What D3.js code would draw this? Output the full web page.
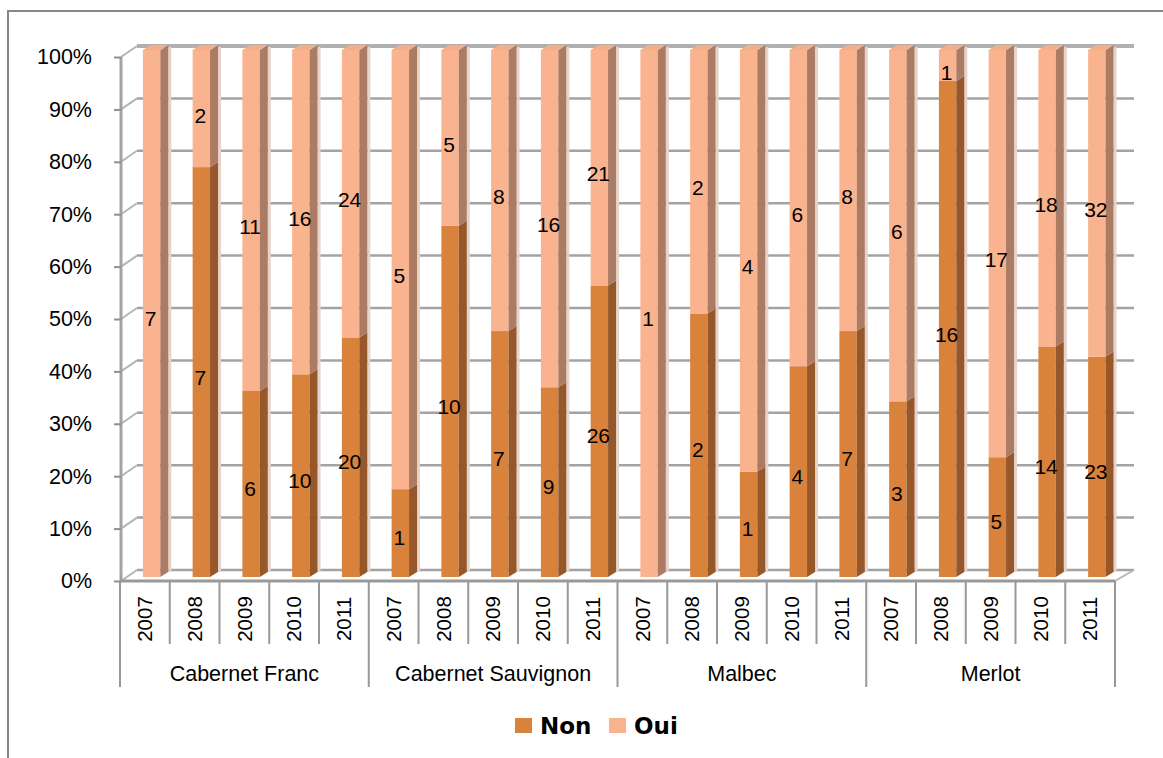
<!DOCTYPE html>
<html>
<head>
<meta charset="utf-8">
<script src="https://cdn.jsdelivr.net/npm/d3@7"></script>
<style>
  body { margin: 0; background: #fff; }
  svg { display: block; }
</style>
</head>
<body>
<div id="chart"></div>
<script>
(function () {

  // cépages et années
  const cepages = ["Cabernet Franc", "Cabernet Sauvignon", "Malbec", "Merlot"]
  const annees = ["2007", "2008", "2009", "2010", "2011"]

  // nombre de réponses par cépage puis par année
  const non = [0, 7, 6, 10, 20,  1, 10, 7, 9, 26,  0, 2, 1, 4, 7,  3, 16, 5, 14, 23]
  const oui = [7, 2, 11, 16, 24,  5, 5, 8, 16, 21,  1, 2, 4, 6, 8,  6, 1, 17, 18, 32]

  const yTicks = [0, 0.1, 0.2, 0.3, 0.4, 0.5, 0.6, 0.7, 0.8, 0.9, 1]

  const W = 1163, H = 758

  const colors = {
    Non: { front: "#D9823B", side: "#96582A", top: "#D07C38" },
    Oui: { front: "#F9B38F", side: "#AB7B64", top: "#F6AE88" }
  }

  const rows = []
  cepages.forEach((c, ci) => {
    annees.forEach((a, ai) => {
      const i = ci * annees.length + ai
      const total = non[i] + oui[i]
      rows.push({ id: c + "|" + a, cepage: c, annee: a, non: non[i], oui: oui[i], pNon: non[i] / total })
    })
  })

  const svg = d3.select("#chart").append("svg")
      .attr("width", W)
      .attr("height", H)

  // cadre du graphique
  svg.append("rect")
    .attr("x", 8).attr("y", 11)
    .attr("width", W + 20).attr("height", H + 20)
    .attr("fill", "none")
    .attr("stroke", "#868686")
    .attr("stroke-width", 2)

  const x = d3.scaleBand()
    .domain(rows.map(d => d.id))
    .range([120, 1115])

  // axe avant (étiquettes) et échelle des barres
  const yFront = d3.scaleLinear().domain([0, 1]).range([581, 57])
  const yBar = d3.scaleLinear().domain([0, 1]).range([577, 50])

  const depth = { dx: 16, dy: -11 }
  const barDepth = { dx: 8, dy: -5 }
  const wallRight = 1134

  const grey = "#A3A3A3"
  const font = "Liberation Sans, Arial, sans-serif"

  // quadrillage du mur du fond
  svg.append("g").selectAll("line")
    .data(yTicks)
    .join("line")
    .attr("x1", 121 + depth.dx)
    .attr("x2", wallRight)
    .attr("y1", d => yFront(d) + depth.dy)
    .attr("y2", d => yFront(d) + depth.dy)
    .attr("stroke", d => d === 1 ? "#B0B0B0" : grey)
    .attr("stroke-width", d => d === 1 ? 4 : 2.5)

  // mur de gauche
  svg.append("g").selectAll("line")
    .data(yTicks)
    .join("line")
    .attr("x1", 121)
    .attr("x2", 121 + depth.dx)
    .attr("y1", d => yFront(d))
    .attr("y2", d => yFront(d) + depth.dy)
    .attr("stroke", "#B5B5B5")
    .attr("stroke-width", 2)

  svg.append("line")
    .attr("x1", 121).attr("x2", 121)
    .attr("y1", yFront(1)).attr("y2", yFront(0))
    .attr("stroke", grey)
    .attr("stroke-width", 3)

  // sol
  svg.append("line")
    .attr("x1", 1115).attr("x2", wallRight)
    .attr("y1", yFront(0)).attr("y2", yFront(0) + depth.dy)
    .attr("stroke", "#B5B5B5")
    .attr("stroke-width", 2)

  // barres 3D
  const bw = x.bandwidth()
  const barLeft = d => x(d.id) + bw * 0.46
  const barW = bw * 0.35

  const bars = svg.append("g").selectAll("g")
    .data(rows)
    .join("g")

  function segments(d) {
    return [
      { key: "Non", y0: 0, y1: d.pNon },
      { key: "Oui", y0: d.pNon, y1: 1 }
    ].filter(s => s.y1 > s.y0)
  }

  // ombre légère
  bars.append("rect")
    .attr("x", d => barLeft(d) + barW + barDepth.dx)
    .attr("y", yBar(1) + barDepth.dy + 2)
    .attr("width", 3)
    .attr("height", yBar(0) - yBar(1) - 2)
    .attr("fill", "#E6D3CA")

  bars.selectAll("rect.front")
    .data(d => segments(d).map(s => Object.assign({ d }, s)))
    .join("rect")
    .attr("class", "front")
    .attr("x", s => barLeft(s.d))
    .attr("y", s => yBar(s.y1))
    .attr("width", barW)
    .attr("height", s => yBar(s.y0) - yBar(s.y1))
    .attr("fill", s => colors[s.key].front)

  bars.selectAll("path.side")
    .data(d => segments(d).map(s => Object.assign({ d }, s)))
    .join("path")
    .attr("class", "side")
    .attr("d", s => {
      const x0 = barLeft(s.d) + barW
      const ya = yBar(s.y1), yb = yBar(s.y0)
      return "M" + x0 + "," + ya +
        "L" + (x0 + barDepth.dx) + "," + (ya + barDepth.dy) +
        "L" + (x0 + barDepth.dx) + "," + (yb + barDepth.dy) +
        "L" + x0 + "," + yb + "Z"
    })
    .attr("fill", s => colors[s.key].side)

  bars.append("path")
    .attr("d", d => {
      const x0 = barLeft(d), x1 = x0 + barW, yt = yBar(1)
      return "M" + x0 + "," + yt +
        "L" + x1 + "," + yt +
        "L" + (x1 + barDepth.dx) + "," + (yt + barDepth.dy) +
        "L" + (x0 + barDepth.dx) + "," + (yt + barDepth.dy) + "Z"
    })
    .attr("fill", d => d.oui > 0 ? colors.Oui.top : colors.Non.top)

  // étiquettes de données
  const labels = []
  rows.forEach(d => {
    if (d.non > 0) labels.push({ d, v: d.non, p: d.pNon / 2 })
    if (d.oui > 0) labels.push({ d, v: d.oui, p: (d.pNon + 1) / 2 })
  })

  svg.append("g").selectAll("text")
    .data(labels)
    .join("text")
    .attr("x", l => barLeft(l.d) + barW / 2 - 1)
    .attr("y", l => yFront(l.p))
    .attr("dy", "0.35em")
    .attr("text-anchor", "middle")
    .attr("font-family", font)
    .attr("font-size", 21)
    .attr("fill", "#000")
    .text(l => l.v)

  // bord avant du sol
  svg.append("line")
    .attr("x1", 120).attr("x2", 1115)
    .attr("y1", yFront(0)).attr("y2", yFront(0))
    .attr("stroke", "#999")
    .attr("stroke-width", 3)

  // axe des pourcentages
  const yAxis = d3.axisLeft(yFront)
    .tickValues(yTicks)
    .tickFormat(d3.format(".0%"))
    .tickSize(7)
    .tickPadding(22)

  const gy = svg.append("g")
    .attr("class", "axis y-axis")
    .attr("transform", "translate(121,0)")
    .call(yAxis)

  gy.select(".domain").remove()
  gy.selectAll(".tick line").attr("stroke", "#8f8f8f").attr("stroke-width", 2)
  gy.selectAll(".tick text")
    .attr("font-family", font)
    .attr("font-size", 21.5)
    .attr("fill", "#000")

  // axe des catégories : années puis cépages
  const axisY = 581
  const cat = svg.append("g").attr("class", "axis x-axis")

  cat.selectAll("line.year")
    .data(rows)
    .join("line")
    .attr("class", "year")
    .attr("x1", d => x(d.id)).attr("x2", d => x(d.id))
    .attr("y1", axisY)
    .attr("y2", (d, i) => i % annees.length === 0 ? 687 : 644)
    .attr("stroke", "#999")
    .attr("stroke-width", 2)

  cat.append("line")
    .attr("x1", 1115).attr("x2", 1115)
    .attr("y1", axisY).attr("y2", 687)
    .attr("stroke", "#999")
    .attr("stroke-width", 2)

  cat.selectAll("text.year")
    .data(rows)
    .join("text")
    .attr("class", "year")
    .attr("transform", d => "translate(" + (x(d.id) + bw / 2) + ",619) rotate(-90)")
    .attr("text-anchor", "middle")
    .attr("dy", "0.35em")
    .attr("font-family", font)
    .attr("font-size", 20.5)
    .attr("fill", "#000")
    .text(d => d.annee)

  cat.selectAll("text.cepage")
    .data(cepages)
    .join("text")
    .attr("class", "cepage")
    .attr("x", c => {
      const ids = rows.filter(r => r.cepage === c).map(r => r.id)
      return (x(ids[0]) + x(ids[ids.length - 1]) + bw) / 2
    })
    .attr("y", 681)
    .attr("text-anchor", "middle")
    .attr("font-family", font)
    .attr("font-size", 21.5)
    .attr("fill", "#000")
    .text(c => c)

  // légende
  const legend = svg.append("g").selectAll("g")
    .data([
      { key: "Non", x: 515, tx: 540 },
      { key: "Oui", x: 609, tx: 634 }
    ])
    .join("g")

  legend.append("rect")
    .attr("x", d => d.x)
    .attr("y", 718)
    .attr("width", 17)
    .attr("height", 15)
    .attr("fill", d => colors[d.key].front)

  legend.append("text")
    .attr("x", d => d.tx)
    .attr("y", 734)
    .attr("font-family", "DejaVu Sans, Verdana, sans-serif")
    .attr("font-weight", "bold")
    .attr("font-size", 23)
    .attr("fill", "#000")
    .text(d => d.key)

})();
</script>
</body>
</html>
